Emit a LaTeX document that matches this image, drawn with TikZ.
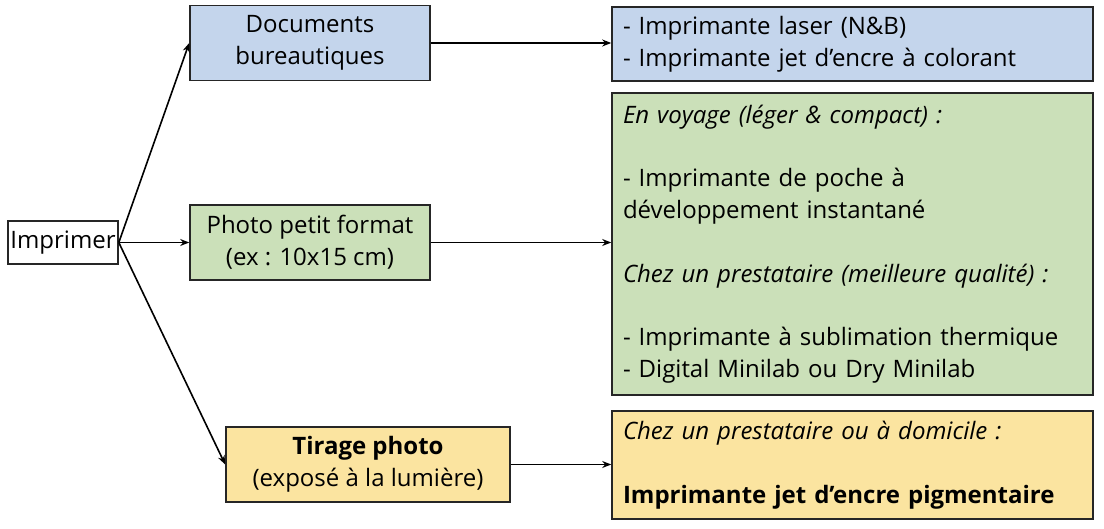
\documentclass[tikz,border=0pt]{standalone}
\usepackage{fontspec}
\setmainfont{Open Sans}
\usetikzlibrary{arrows.meta}
\definecolor{bureauBlue}{HTML}{C4D5EC}
\definecolor{photoGreen}{HTML}{CBE0B9}
\definecolor{tirageGold}{HTML}{FBE4A0}
\tikzset{
  box/.style={draw=black!85, line width=1.6pt, inner sep=0pt,
    font=\fontsize{24}{31.75}\selectfont},
  choice/.style={box, minimum height=75pt, align=center},
  usage/.style={box, inner xsep=11pt, text width=459pt, align=left},
  link/.style={-{Stealth[length=9pt,width=7pt]}, line width=1.6pt},
}
\begin{document}
\begin{tikzpicture}[x=1pt, y=-1pt]
        \useasboundingbox (0, 0) rectangle (1104, 529);
        \node[box, minimum width=110pt, minimum height=43pt] (imprimer) at (63, 242.5) {Imprimer};
        \node[choice, fill=bureauBlue, minimum width=240pt] (bureau) at (310, 43) {Documents\\bureautiques};
        \node[choice, fill=photoGreen, minimum width=240pt] (petit) at (310, 242.5) {Photo petit format\\(ex : 10x15 cm)};
        \node[choice, fill=tirageGold, minimum width=284pt] (tirage) at (368, 464.5) {\textbf{Tirage photo}\\(exposé à la lumière)};
        \node[usage, fill=bureauBlue, minimum height=74pt] (bureauout) at (852.5, 44)
          {- Imprimante laser (N\&B)\\- Imprimante jet d’encre à colorant};
        \node[usage, fill=photoGreen, minimum height=302pt] (petitout) at (852.5, 244)
          {\textit{En voyage (léger \& compact) :}\\[31.75pt]
           - Imprimante de poche à\\développement instantané\\[31.75pt]
           \textit{Chez un prestataire (meilleure qualité) :}\\[31.75pt]
           - Imprimante à sublimation thermique\\- Digital Minilab ou Dry Minilab};
        \node[usage, fill=tirageGold, minimum height=108pt] (tirageout) at (852.5, 465)
          {\textit{Chez un prestataire ou à domicile :}\\[31.75pt]
           \textbf{Imprimante jet d’encre pigmentaire}};
        \foreach \target in {bureau, petit, tirage} {
          \draw[link] (imprimer.east) -- (\target.west);
        }
        \draw[link] (bureau.east) -- (bureau.east -| bureauout.west);
        \draw[link] (petit.east) -- (petit.east -| petitout.west);
        \draw[link] (tirage.east) -- (tirage.east -| tirageout.west);
      \end{tikzpicture}
\end{document}
